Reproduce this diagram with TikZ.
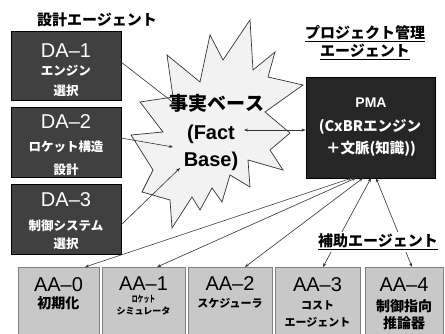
\documentclass[tikz,border=0pt]{standalone}
\usepackage{fontspec}
\setmainfont{Liberation Sans}
\newfontfamily\jp{Noto Sans CJK JP}
\usetikzlibrary{arrows.meta,calc}
\definecolor{dagray}{HTML}{404040}
\definecolor{pmagray}{HTML}{262626}
\definecolor{aagray}{HTML}{C8C8C8}
\definecolor{aaedge}{HTML}{808080}
\definecolor{starfill}{HTML}{F2F2F2}
\definecolor{linec}{HTML}{333333}
\begin{document}
\begin{tikzpicture}[x=1pt,y=-1pt,
  dabox/.style={draw=black, fill=dagray, line width=0.8pt, minimum width=110pt, minimum height=70pt, inner sep=0pt},
  aabox/.style={draw=aaedge, fill=aagray, line width=0.8pt, minimum height=70pt, inner sep=0pt, anchor=north},
  pmabox/.style={draw=black, fill=pmagray, line width=0.8pt, minimum width=129pt, minimum height=101pt, inner sep=0pt},
  bigw/.style={text=white, font=\fontsize{20}{20}\selectfont, inner sep=0pt},
  smw/.style={text=white, font=\jp\bfseries\fontsize{12.5}{12.5}\selectfont, inner sep=0pt},
  bigb/.style={text=black, font=\fontsize{20}{20}\selectfont, inner sep=0pt},
  smb/.style={text=black, font=\jp\bfseries\fontsize{11}{11}\selectfont, inner sep=0pt},
  midb/.style={text=black, font=\jp\bfseries\fontsize{14}{14}\selectfont, inner sep=0pt},
  tinyb/.style={text=black, font=\jp\bfseries\fontsize{9}{9}\selectfont, inner sep=0pt},
  title/.style={text=black, font=\jp\bfseries\fontsize{15}{15}\selectfont, inner sep=0pt},
  conn/.style={draw=linec, line width=0.6pt},
  tip/.style={-{Stealth[length=4pt,width=3pt]}},
  dtip/.style={{Stealth[length=4pt,width=3pt]}-{Stealth[length=4pt,width=3pt]}}
]
\useasboundingbox (0,0) rectangle (445,334);
\fill[white] (0,0) rectangle (445,334);

% star (fact base)
\draw[fill=starfill, draw=linec, line width=0.7pt]
  (167,55) -- (200,82) -- (210,35) -- (223,60) -- (250,20) -- (253,70)
  -- (275,52) -- (268,77) -- (303,85) -- (265,112) -- (290,133) -- (270,150)
  -- (283,170) -- (248,160) -- (250,187) -- (230,175) -- (222,202) -- (212,188)
  -- (200,210) -- (192,197) -- (172,228) -- (170,200) -- (142,192) -- (153,170)
  -- (131,135) -- (163,132) -- (140,102) -- (173,97) -- cycle;

% titles
\node[title] (t1) at (97,20) {設計エージェント};
\node[title] (t2) at (365,34) {\underline{プロジェクト管理}};
\node[title] (t3) at (365,52) {\underline{エージェント}};

% DA boxes
\node[dabox, minimum height=69pt] (da1) at (66,65.5) {};
\node[bigw] (da1a) at (66,51) {DA–1};
\node[smw] (da1b) at (66,71) {エンジン};
\node[smw] (da1c) at (66,91) {選択};

\node[dabox] (da2) at (66,142) {};
\node[bigw] (da2a) at (66,122) {DA–2};
\node[smw] (da2b) at (66,147) {ロケット構造};
\node[smw] (da2c) at (66,170) {設計};

\node[dabox] (da3) at (66,219) {};
\node[bigw] (da3a) at (66,200) {DA–3};
\node[smw] (da3b) at (66,226) {制御システム};
\node[smw] (da3c) at (66,244) {選択};

% PMA
\node[pmabox] (pma) at (370.5,127.5) {};
\node[text=white, font=\bfseries\fontsize{14}{14}\selectfont, inner sep=0pt] (pmaa) at (371,103) {PMA};
\node[text=white, font=\jp\bfseries\fontsize{14.5}{14.5}\selectfont, inner sep=0pt] (pmab) at (370,127) {(CxBRエンジン};
\node[text=white, font=\jp\bfseries\fontsize{14.5}{14.5}\selectfont, inner sep=0pt] (pmac) at (371,149) {＋文脈(知識))};

% AA boxes
\node[aabox, minimum width=81pt] (aa0) at (58.5,267) {};
\node[aabox, minimum width=83pt] (aa1) at (143.5,267) {};
\node[aabox, minimum width=84pt] (aa2) at (230,267) {};
\node[aabox, minimum width=85pt] (aa3) at (317.5,267) {};
\node[aabox, minimum width=78pt] (aa4) at (404,267) {};

\node[bigb] (aa0a) at (58.5,285) {AA–0};
\node[midb] (aa0b) at (58.5,303) {初期化};
\node[bigb] (aa1a) at (143.5,284) {AA–1};
\node[tinyb, xscale=0.65] (aa1b) at (143.5,299) {ロケット};
\node[tinyb] (aa1c) at (143.5,311) {シミュレータ};
\node[bigb] (aa2a) at (230,284) {AA–2};
\node[smb] (aa2b) at (230,303) {スケジューラ};
\node[bigb] (aa3a) at (317.5,285) {AA–3};
\node[smb] (aa3b) at (317.5,305) {コスト};
\node[smb] (aa3c) at (317.5,322) {エージェント};
\node[bigb] (aa4a) at (404,285) {AA–4};
\node[midb] (aa4b) at (404,306) {制御指向};
\node[midb] (aa4c) at (404,323) {推論器};

% connector end points
\coordinate (s1) at (179,107);
\coordinate (s2) at (173,147);
\coordinate (s3) at (180,168);
\coordinate (s4) at (244,130);
\coordinate (d1) at (121,62);
\coordinate (d2) at (121,138);
\coordinate (d3) at (121,225);
\coordinate (p0) at (352,178);
\coordinate (p1) at (356,178);
\coordinate (p2) at (363,178);
\coordinate (p3) at (371,178);
\coordinate (p4) at (376,178);
\coordinate (a0) at (85,267);
\coordinate (a1) at (157,267);
\coordinate (a2) at (245,267);
\coordinate (a3) at (323,267);
\coordinate (a4) at (412,267);

\draw[conn, tip] (d1) -- (s1);
\draw[conn, tip] (d2) -- (s2);
\draw[conn, tip] (d3) -- (s3);
\draw[conn, dtip] (s4) -- (pma.west |- s4);

\draw[conn, dtip] (p0) -- (a0);
\draw[conn, dtip] (p1) -- (a1);
\draw[conn, dtip] (p2) -- (a2);
\draw[conn, dtip] (p3) -- (a3);
\draw[conn, dtip] (p4) -- (a4);

% star text (over lines)
\node[text=black, font=\jp\bfseries\fontsize{19}{19}\selectfont, inner sep=0pt] (fb1) at (217,103) {事実ベース};
\node[text=black, font=\bfseries\fontsize{20}{20}\selectfont, inner sep=0pt] (fb2) at (211,134) {(Fact};
\node[text=black, font=\bfseries\fontsize{20}{20}\selectfont, inner sep=0pt] (fb3) at (211,161) {Base)};

% helper agents label
\node[title, fill=white, inner sep=2pt] (t4) at (378,242) {\underline{補助エージェント}};
\end{tikzpicture}
\end{document}
